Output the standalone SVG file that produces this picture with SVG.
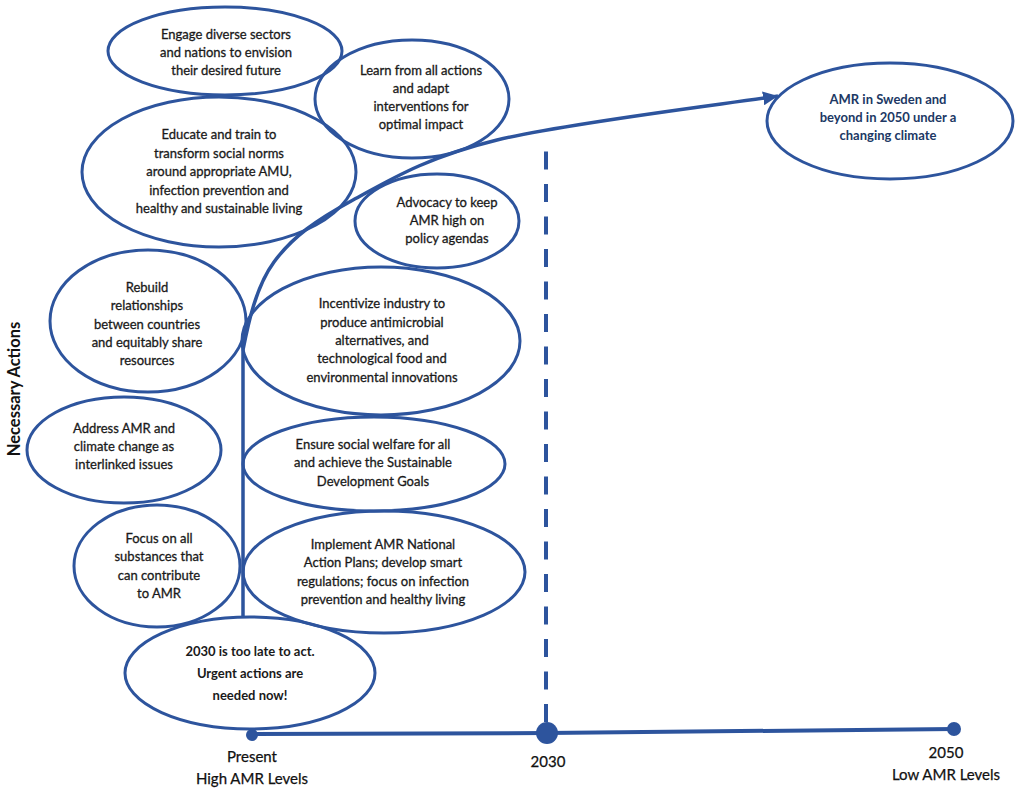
<svg xmlns="http://www.w3.org/2000/svg" width="1024" height="795" viewBox="0 0 1024 795">
<defs>
<style>
.n{fill:none;stroke:#2d549d;stroke-width:3}
.t{font-family:Lato,"Liberation Sans",sans-serif;font-size:13px;fill:#1a1a1a;stroke:#1a1a1a;stroke-width:0.3;text-anchor:middle}
.b{font-weight:bold;stroke-width:0}
.s{fill:#203864;stroke:#203864;stroke-width:0;font-weight:bold}
.l{font-family:Lato,"Liberation Sans",sans-serif;font-size:15px;fill:#111;stroke:#111;stroke-width:0.25;text-anchor:middle}
.c{fill:none;stroke:#2d549d;stroke-width:3.5}
</style>
<marker id="ah" markerUnits="userSpaceOnUse" markerWidth="16" markerHeight="14" refX="15" refY="7" orient="auto">
<path d="M0,0 L15,7 L0,14 z" fill="#2d549d"/>
</marker>
</defs>
<rect width="1024" height="795" fill="#fff"/>
<g id="connectors">
<path class="c" d="M243 618 L243 350 C248.2 323.7 255.7 287 274 262 C292.3 237 315.8 220.3 353 200 C390.2 179.7 426.2 157.3 497 140 C567.8 122.7 731.2 103.3 778 96" marker-end="url(#ah)"/>
<path d="M546 722 L546 137" fill="none" stroke="#2d549d" stroke-width="4" stroke-dasharray="18 14.5"/>
<path d="M252 734 L547 733 L954 729" fill="none" stroke="#2d549d" stroke-width="4"/>
<circle cx="252" cy="735" r="6" fill="#2d549d"/>
<circle cx="547" cy="733" r="11" fill="#2d549d"/>
<circle cx="954" cy="729" r="7" fill="#2d549d"/>
</g>
<g id="n-engage">
<ellipse class="n" cx="225" cy="51" rx="117" ry="44"/>
<text class="t" x="226" y="39">Engage diverse sectors</text>
<text class="t" x="226" y="57">and nations to envision</text>
<text class="t" x="226" y="75">their desired future</text>
</g>
<g id="n-learn">
<ellipse class="n" cx="412" cy="99" rx="97" ry="59"/>
<text class="t" x="421" y="75">Learn from all actions</text>
<text class="t" x="421" y="93">and adapt</text>
<text class="t" x="421" y="111">interventions for</text>
<text class="t" x="421" y="129">optimal impact</text>
</g>
<g id="n-educate">
<ellipse class="n" cx="219" cy="172" rx="137" ry="75"/>
<text class="t" x="219" y="139">Educate and train to</text>
<text class="t" x="219" y="158">transform social norms</text>
<text class="t" x="219" y="176">around appropriate AMU,</text>
<text class="t" x="219" y="195">infection prevention and</text>
<text class="t" x="219" y="213">healthy and sustainable living</text>
</g>
<g id="n-advocacy">
<ellipse class="n" cx="437" cy="221" rx="82" ry="47"/>
<text class="t" x="447" y="207">Advocacy to keep</text>
<text class="t" x="447" y="225">AMR high on</text>
<text class="t" x="447" y="243">policy agendas</text>
</g>
<g id="n-rebuild">
<ellipse class="n" cx="148" cy="321" rx="98" ry="71"/>
<text class="t" x="147" y="292">Rebuild</text>
<text class="t" x="147" y="310">relationships</text>
<text class="t" x="147" y="329">between countries</text>
<text class="t" x="147" y="347">and equitably share</text>
<text class="t" x="147" y="365">resources</text>
</g>
<g id="n-incentivize">
<ellipse class="n" cx="381" cy="341" rx="139" ry="74"/>
<text class="t" x="382" y="308">Incentivize industry to</text>
<text class="t" x="382" y="327">produce antimicrobial</text>
<text class="t" x="382" y="345">alternatives, and</text>
<text class="t" x="382" y="363">technological food and</text>
<text class="t" x="382" y="382">environmental innovations</text>
</g>
<g id="n-address">
<ellipse class="n" cx="124" cy="450" rx="97" ry="53"/>
<text class="t" x="124" y="433">Address AMR and</text>
<text class="t" x="124" y="451">climate change as</text>
<text class="t" x="124" y="469">interlinked issues</text>
</g>
<g id="n-ensure">
<ellipse class="n" cx="374" cy="464" rx="131" ry="47"/>
<text class="t" x="373" y="449">Ensure social welfare for all</text>
<text class="t" x="373" y="467">and achieve the Sustainable</text>
<text class="t" x="373" y="486">Development Goals</text>
</g>
<g id="n-focus">
<ellipse class="n" cx="157" cy="566" rx="83" ry="61"/>
<text class="t" x="159" y="543">Focus on all</text>
<text class="t" x="159" y="561">substances that</text>
<text class="t" x="159" y="580">can contribute</text>
<text class="t" x="159" y="598">to AMR</text>
</g>
<g id="n-implement">
<ellipse class="n" cx="384" cy="572" rx="141" ry="61"/>
<text class="t" x="383" y="549">Implement AMR National</text>
<text class="t" x="383" y="567">Action Plans; develop smart</text>
<text class="t" x="383" y="586">regulations; focus on infection</text>
<text class="t" x="383" y="604">prevention and healthy living</text>
</g>
<g id="n-urgent">
<ellipse class="n" cx="250" cy="673" rx="125" ry="56"/>
<text class="t b" x="250" y="656">2030 is too late to act.</text>
<text class="t b" x="250" y="678">Urgent actions are</text>
<text class="t b" x="250" y="700">needed now!</text>
</g>
<g id="n-sweden">
<ellipse class="n" cx="890" cy="121" rx="123" ry="58"/>
<text class="t s" x="888" y="104">AMR in Sweden and</text>
<text class="t s" x="888" y="122">beyond in 2050 under a</text>
<text class="t s" x="888" y="140">changing climate</text>
</g>
<g id="labels">
<text class="l" x="252" y="762">Present</text>
<text class="l" x="252" y="784">High AMR Levels</text>
<text class="l" x="548" y="767">2030</text>
<text class="l" x="946" y="758">2050</text>
<text class="l" x="946" y="780">Low AMR Levels</text>
<text class="l" style="font-weight:bold;font-size:16.5px;stroke-width:0" transform="translate(20 389) rotate(-90)">Necessary Actions</text>
</g>
</svg>
